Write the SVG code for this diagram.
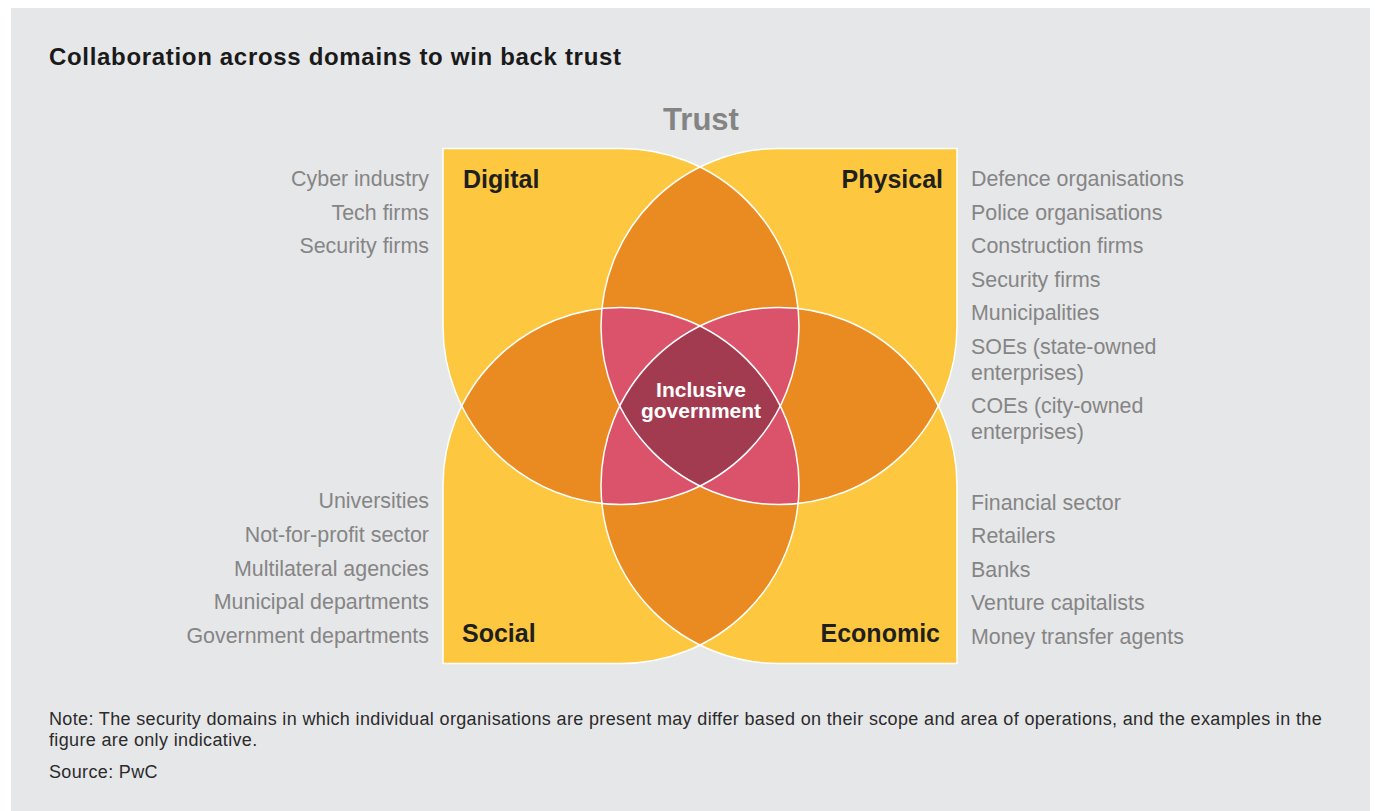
<svg xmlns="http://www.w3.org/2000/svg" xmlns:xlink="http://www.w3.org/1999/xlink" width="1375" height="811" viewBox="0 0 1375 811">
  <style>
    .title { font-family: "Liberation Sans", Arial, sans-serif; font-weight: bold; font-size: 24px; fill: #1a1a1a; }
    .trust { font-family: "Liberation Sans", Arial, sans-serif; font-weight: bold; font-size: 31px; fill: #848484; }
    .domain { font-family: "Liberation Sans", Arial, sans-serif; font-weight: bold; font-size: 25px; fill: #1f1f1f; }
    .item { font-family: "Liberation Sans", Arial, sans-serif; font-size: 21.4px; fill: #858585; }
    .left { text-anchor: end; }
    .core { font-family: "Liberation Sans", Arial, sans-serif; font-weight: bold; font-size: 21px; fill: #ffffff; text-anchor: middle; }
    .note { font-family: "Liberation Sans", Arial, sans-serif; font-size: 18px; letter-spacing: 0.35px; fill: #2b2b2b; }
    .one { fill: #FDC83F; }
    .two { fill: #EA8B22; }
    .three { fill: #DB536A; }
    .four { fill: #A33B50; }
    .edge { fill: none; stroke: #ffffff; stroke-width: 1.5; }
  </style>
  <defs>
    <!-- each domain: a circle (r=178) with one quadrant squared off -->
    <path id="shapeD" d="M443,148.5 H621 A178,178 0 0 1 799,326.5 A178,178 0 0 1 621,504.5 A178,178 0 0 1 443,326.5 Z"/>
    <path id="shapeP" d="M957,148.5 V326.5 A178,178 0 0 1 779,504.5 A178,178 0 0 1 601,326.5 A178,178 0 0 1 779,148.5 Z"/>
    <path id="shapeS" d="M443,663.5 V485.5 A178,178 0 0 1 621,307.5 A178,178 0 0 1 799,485.5 A178,178 0 0 1 621,663.5 Z"/>
    <path id="shapeE" d="M957,663.5 H779 A178,178 0 0 1 601,485.5 A178,178 0 0 1 779,307.5 A178,178 0 0 1 957,485.5 Z"/>
    <clipPath id="cD"><use xlink:href="#shapeD"/></clipPath>
    <clipPath id="cP"><use xlink:href="#shapeP"/></clipPath>
    <clipPath id="cS"><use xlink:href="#shapeS"/></clipPath>
    <clipPath id="cE"><use xlink:href="#shapeE"/></clipPath>
  </defs>

  <!-- panel -->
  <rect x="11" y="8" width="1359" height="803" fill="#E6E7E9"/>

  <text class="title" x="49" y="65" textLength="572" lengthAdjust="spacing">Collaboration across domains to win back trust</text>
  <text class="trust" x="701" y="130" text-anchor="middle">Trust</text>

  <!-- single domains -->
  <g id="digital"><use xlink:href="#shapeD" class="one"/></g>
  <g id="physical"><use xlink:href="#shapeP" class="one"/></g>
  <g id="social"><use xlink:href="#shapeS" class="one"/></g>
  <g id="economic"><use xlink:href="#shapeE" class="one"/></g>

  <!-- overlaps of two domains -->
  <g id="pairs" class="two">
    <use xlink:href="#shapeP" clip-path="url(#cD)"/>
    <use xlink:href="#shapeS" clip-path="url(#cD)"/>
    <use xlink:href="#shapeE" clip-path="url(#cD)"/>
    <use xlink:href="#shapeS" clip-path="url(#cP)"/>
    <use xlink:href="#shapeE" clip-path="url(#cP)"/>
    <use xlink:href="#shapeE" clip-path="url(#cS)"/>
  </g>

  <!-- overlaps of three domains -->
  <g id="triples" class="three">
    <g clip-path="url(#cD)"><use xlink:href="#shapeS" clip-path="url(#cP)"/></g>
    <g clip-path="url(#cD)"><use xlink:href="#shapeE" clip-path="url(#cP)"/></g>
    <g clip-path="url(#cD)"><use xlink:href="#shapeE" clip-path="url(#cS)"/></g>
    <g clip-path="url(#cP)"><use xlink:href="#shapeE" clip-path="url(#cS)"/></g>
  </g>

  <!-- all four: inclusive government -->
  <g id="core">
    <g clip-path="url(#cD)"><g clip-path="url(#cP)"><use xlink:href="#shapeE" class="four" clip-path="url(#cS)"/></g></g>
    <text class="core" x="701" y="397">Inclusive</text>
    <text class="core" x="701" y="418">government</text>
  </g>

  <!-- white outlines over everything -->
  <g id="outlines" class="edge">
    <use xlink:href="#shapeD"/>
    <use xlink:href="#shapeP"/>
    <use xlink:href="#shapeS"/>
    <use xlink:href="#shapeE"/>
  </g>

  <!-- domain labels -->
  <text class="domain" x="463" y="188">Digital</text>
  <text class="domain" x="943" y="188" text-anchor="end">Physical</text>
  <text class="domain" x="462" y="642">Social</text>
  <text class="domain" x="940" y="642" text-anchor="end">Economic</text>

  <!-- example organisations -->
  <g id="list-digital" class="item left">
    <text x="429" y="186">Cyber industry</text>
    <text x="429" y="220">Tech firms</text>
    <text x="429" y="253">Security firms</text>
  </g>
  <g id="list-physical" class="item">
    <text x="971" y="186">Defence organisations</text>
    <text x="971" y="220">Police organisations</text>
    <text x="971" y="253">Construction firms</text>
    <text x="971" y="287">Security firms</text>
    <text x="971" y="320">Municipalities</text>
    <text x="971" y="354">SOEs (state-owned</text>
    <text x="971" y="380">enterprises)</text>
    <text x="971" y="413">COEs (city-owned</text>
    <text x="971" y="439">enterprises)</text>
  </g>
  <g id="list-social" class="item left">
    <text x="429" y="508">Universities</text>
    <text x="429" y="542">Not-for-profit sector</text>
    <text x="429" y="576">Multilateral agencies</text>
    <text x="429" y="609">Municipal departments</text>
    <text x="429" y="643">Government departments</text>
  </g>
  <g id="list-economic" class="item">
    <text x="971" y="510">Financial sector</text>
    <text x="971" y="543">Retailers</text>
    <text x="971" y="577">Banks</text>
    <text x="971" y="610">Venture capitalists</text>
    <text x="971" y="644">Money transfer agents</text>
  </g>

  <!-- footnote -->
  <text class="note" x="49" y="725" textLength="1273" lengthAdjust="spacing">Note: The security domains in which individual organisations are present may differ based on their scope and area of operations, and the examples in the</text>
  <text class="note" x="49" y="746">figure are only indicative.</text>
  <text class="note" x="49" y="778">Source: PwC</text>
</svg>
